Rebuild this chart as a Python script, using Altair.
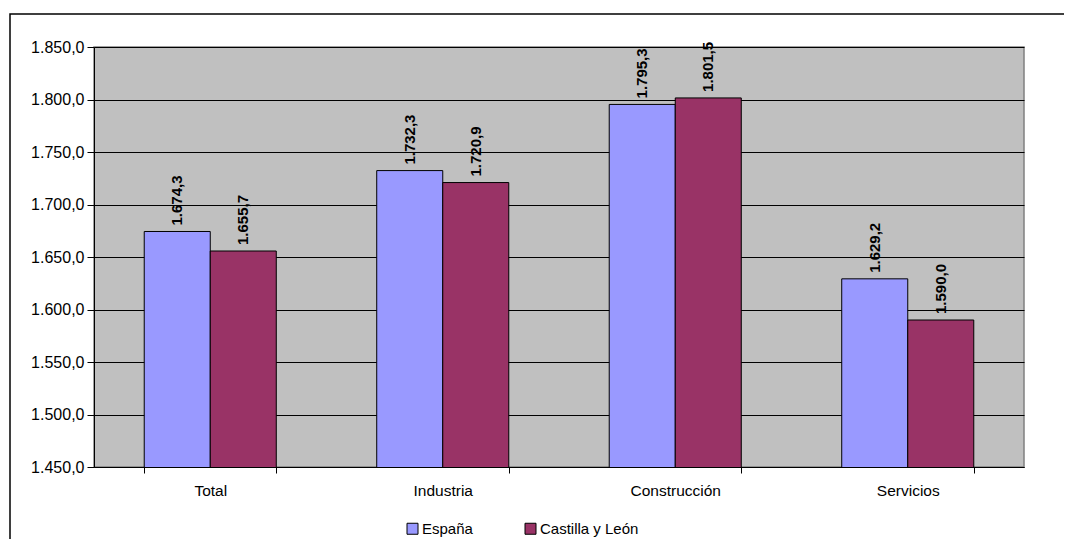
import altair as alt
import pandas as pd

categories = ["Total", "Industria", "Construcción", "Servicios"]
series = ["España", "Castilla y León"]
espana = [1674.3, 1732.3, 1795.3, 1629.2]
cyl = [1655.7, 1720.9, 1801.5, 1590.0]
colors = ["#9999FF", "#993366"]
y_ticks = [1450, 1500, 1550, 1600, 1650, 1700, 1750, 1800, 1850]

rows = []
for i, c in enumerate(categories):
    rows.append({"cat": c, "serie": series[0], "val": espana[i]})
    rows.append({"cat": c, "serie": series[1], "val": cyl[i]})
df = pd.DataFrame(rows)

FONT = "Liberation Sans"

x_enc = alt.X("cat:N", sort=categories, title=None,
              scale=alt.Scale(paddingInner=0.432, paddingOuter=0.216),
              axis=alt.Axis(labelAngle=0, labelFontSize=15.5, labelFont=FONT, labelColor="black",
                            labelPadding=10, tickBand="extent", tickSize=6, tickColor="black",
                            domainColor="black", grid=False))
y_enc = alt.Y("val:Q", title=None,
              scale=alt.Scale(domain=[1450, 1850], zero=False, nice=False),
              axis=alt.Axis(values=y_ticks, format=",.1f", labelFontSize=16, labelFont=FONT,
                            labelColor="black", tickSize=7, tickColor="black", labelPadding=3,
                            domainColor="black", gridColor="black", gridOpacity=1))
off = alt.XOffset("serie:N", sort=series)

frame = alt.Chart(pd.DataFrame({"a": [0]})).mark_rect(
    fill=None, stroke="black", strokeWidth=1.5, clip=False
).encode(x=alt.value(-84), x2=alt.value(977), y=alt.value(-33), y2=alt.value(600))

bars = alt.Chart(df).mark_bar(stroke="black", strokeWidth=1, clip=True).encode(
    x=x_enc, y=y_enc, xOffset=off,
    color=alt.Color("serie:N", sort=series,
                    scale=alt.Scale(domain=series, range=colors),
                    legend=alt.Legend(title=None, orient="none", direction="horizontal",
                                      legendX=311, legendY=474, symbolType="square",
                                      symbolSize=121, symbolStrokeColor="black",
                                      symbolStrokeWidth=1, symbolOpacity=1,
                                      labelFontSize=15, labelFont=FONT, labelColor="black",
                                      labelOffset=2, columnPadding=50)),
)

labels = alt.Chart(df).mark_text(
    angle=270, align="left", baseline="middle", dx=6, fontWeight="bold",
    fontSize=15, font=FONT, color="black"
).encode(x=alt.X("cat:N", sort=categories), y="val:Q", xOffset=off,
         text=alt.Text("val:Q", format=",.1f"))

chart = alt.layer(frame, bars, labels).properties(
    width=930, height=420,
    autosize=alt.AutoSizeParams(type="none"),
    padding={"left": 86, "top": 39, "right": 40, "bottom": 72},
).configure(
    locale={"number": {"decimal": ",", "thousands": ".", "grouping": [3], "currency": ["", " €"]}}
).configure_view(fill="#C0C0C0", stroke="#808080", strokeWidth=1.5)

chart.save("out.html", embed_options={"renderer": "svg", "actions": False})
